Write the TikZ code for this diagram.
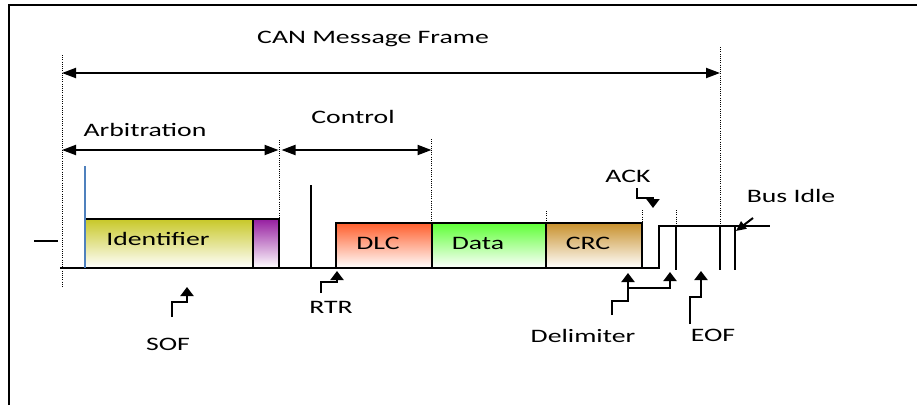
\documentclass[tikz,border=0pt]{standalone}
\usepackage{fontspec}
\setmainfont{Carlito}[FakeStretch=1.46]
\usetikzlibrary{arrows.meta}
\begin{document}
\begin{tikzpicture}[x=1pt,y=-1pt,
  lbl/.style={font=\fontsize{19}{22}\selectfont, inner sep=0pt, anchor=base},
  wire/.style={line width=2pt},
  dotline/.style={line width=1pt, dash pattern=on 1pt off 1.2pt},
  span/.style={line width=2pt, {Triangle[length=14pt,width=10pt]}-{Triangle[length=14pt,width=10pt]}},
  pointer/.style={line width=2pt, -{Triangle[length=9pt,width=13pt]}},
  field/.style={draw, line width=2pt, inner sep=0pt, bottom color=white, minimum height=#1},
]
\useasboundingbox (0,0) rectangle (917,405);

% outer frame (top and left edges)
\draw[line width=2.5pt] (9,405) -- (9,5) -- (917,5);

% dotted guide lines
\draw[dotline] (62,55) -- (62,287);
\draw[dotline] (720,47) -- (720,226);
\draw[dotline] (279.5,140) -- (279.5,218);
\draw[dotline] (431.5,139) -- (431.5,223);
\draw[dotline] (546,211) -- (546,223);
\draw[dotline] (642,210) -- (642,266);
\draw[dotline] (676,210) -- (676,226);

% span arrows and their titles
\coordinate (frameL) at (62,73);
\coordinate (frameR) at (720,73);
\draw[span] (frameL) -- (frameR);
\node[lbl] (frame) at (373,43) {CAN Message Frame};

\coordinate (arbL) at (62,150);
\coordinate (arbR) at (278.5,150);
\draw[span] (arbL) -- (arbR);
\node[lbl] (arb) at (145,136) {Arbitration};

\coordinate (ctlL) at (281.5,150);
\coordinate (ctlR) at (431.5,150);
\draw[span] (ctlL) -- (ctlR);
\node[lbl] (ctl) at (353,123) {Control};

% bus level: low through the fields, high after the acknowledge slot
\draw[wire] (34,241) -- (58,241);
\draw[wire] (60,268) -- (659,268) -- (659,226) -- (770,226);

% frame fields
\node[field=49pt, minimum width=168pt, top color={rgb,255:red,200;green,200;blue,40}] (id) at (169,243.5) {};
\node[field=49pt, minimum width=26pt, top color={rgb,255:red,150;green,30;blue,160}] (ide) at (266,243.5) {};
\node[field=45pt, minimum width=96pt, top color={rgb,255:red,255;green,95;blue,45}] (dlc) at (384,245.5) {};
\node[field=45pt, minimum width=114pt, top color={rgb,255:red,95;green,255;blue,55}] (data) at (489,245.5) {};
\node[field=45pt, minimum width=96pt, top color={rgb,255:red,200;green,145;blue,45}] (crc) at (594,245.5) {};

\node[lbl] (idt) at (158,245) {Identifier};
\node[lbl] (dlct) at (378,249) {DLC};
\node[lbl] (datat) at (478,249) {Data};
\node[lbl] (crct) at (588,249) {CRC};

% bit edges
\draw[line width=1.6pt, color={rgb,255:red,79;green,129;blue,189}] (85,166) -- (85,268);
\draw[wire] (311,185) -- (311,268);
\draw[wire] (676,226) -- (676,270);
\draw[wire] (720,226) -- (720,270);
\draw[wire] (735,226) -- (735,270);

% labels below and above the bus with their pointers
\node[lbl] (sof) at (168,350) {SOF};
\coordinate (sofT) at (172,317);
\draw[pointer] (sofT) |- (187,302) -- (187,287);

\node[lbl] (rtr) at (331,313) {RTR};
\coordinate (rtrT) at (321,293);
\draw[pointer] (rtrT) |- (337,282) -- (337,271);

\node[lbl] (del) at (583,342) {Delimiter};
\coordinate (delT) at (612,315);
\draw[pointer] (delT) |- (628,301) -- (628,273);
\coordinate (delB) at (628,288);
\draw[pointer] (delB) -| (670,272);

\node[lbl] (eof) at (713,341) {EOF};
\coordinate (eofT) at (690,324);
\draw[pointer] (eofT) |- (701,297) -- (701,271);

\node[lbl] (ack) at (628,182) {ACK};
\coordinate (ackT) at (637,188);
\draw[pointer] (ackT) |- (653,198) -- (653,208);

\node[lbl] (idle) at (791,202) {Bus Idle};
\coordinate (idleT) at (753,218);
\coordinate (idleH) at (736,231);
\draw[line width=2pt, -{Triangle[length=10pt,width=9pt]}] (idleT) -- (idleH);
\end{tikzpicture}
\end{document}
